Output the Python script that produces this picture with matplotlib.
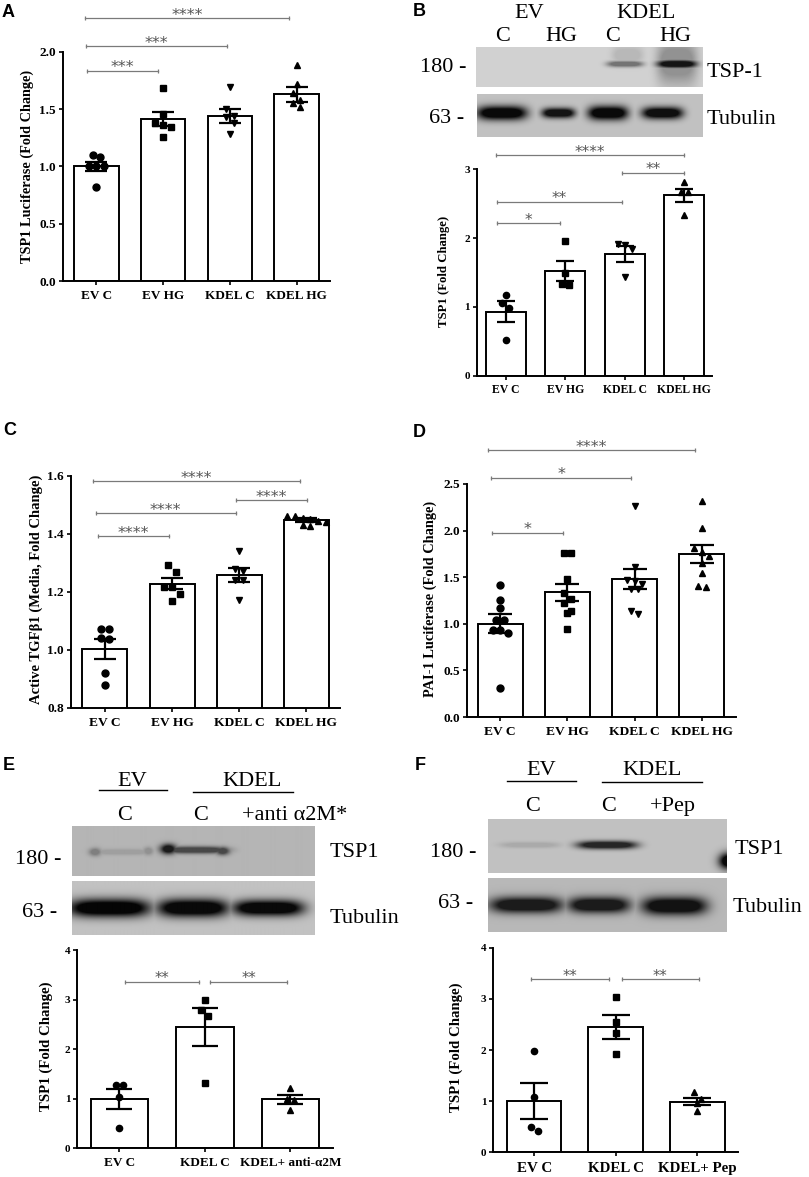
import numpy as np
import matplotlib.pyplot as plt
from matplotlib.lines import Line2D

W, H = 809, 1177
SERIF = ['Liberation Serif', 'DejaVu Serif']
SANS = ['Liberation Sans', 'DejaVu Sans']
plt.rcParams['font.family'] = SERIF

# ---------------- data ----------------
groups4 = ['EV C', 'EV HG', 'KDEL C', 'KDEL HG']
groups_e = ['EV C', 'KDEL C', 'KDEL+ anti-α2M']
groups_f = ['EV C', 'KDEL C', 'KDEL+ Pep']

a_mean = [1.00, 1.41, 1.44, 1.63]
a_sem = [0.04, 0.06, 0.06, 0.065]
a_pts = [[1.08, 1.10, 1.00, 1.00, 1.00, 0.82],
         [1.68, 1.46, 1.36, 1.38, 1.34, 1.26],
         [1.69, 1.44, 1.50, 1.43, 1.38, 1.28],
         [1.88, 1.72, 1.64, 1.58, 1.55, 1.52]]

b_mean = [0.93, 1.52, 1.77, 2.62]
b_sem = [0.15, 0.15, 0.115, 0.10]
b_pts = [[1.18, 1.05, 0.98, 0.52],
         [1.96, 1.49, 1.32, 1.34],
         [1.92, 1.90, 1.84, 1.44],
         [2.81, 2.67, 2.67, 2.34]]

c_mean = [1.003, 1.228, 1.258, 1.448]
c_sem = [0.034, 0.018, 0.025, 0.007]
c_pts = [[1.07, 1.07, 1.036, 1.039, 0.918, 0.878],
         [1.292, 1.269, 1.217, 1.217, 1.192, 1.169],
         [1.34, 1.28, 1.27, 1.24, 1.24, 1.17],
         [1.46, 1.46, 1.455, 1.45, 1.445, 1.44, 1.43, 1.425]]

d_mean = [1.00, 1.34, 1.48, 1.75]
d_sem = [0.10, 0.09, 0.11, 0.10]
d_pts = [[1.42, 1.26, 1.17, 1.04, 1.04, 0.93, 0.90, 0.93, 0.31],
         [1.76, 1.76, 1.48, 1.33, 1.27, 1.22, 1.14, 1.12, 0.94],
         [2.26, 1.61, 1.47, 1.46, 1.43, 1.37, 1.37, 1.14, 1.11],
         [2.32, 2.03, 1.81, 1.77, 1.73, 1.65, 1.55, 1.40, 1.41]]

e_mean = [1.00, 2.44, 0.99]
e_sem = [0.205, 0.38, 0.095]
e_pts = [[1.28, 1.28, 1.04, 0.40],
         [2.99, 2.79, 2.66, 1.31],
         [1.21, 1.00, 0.97, 0.77]]

f_mean = [1.00, 2.45, 0.99]
f_sem = [0.355, 0.23, 0.075]
f_pts = [[1.98, 1.09, 0.42, 0.50],
         [3.03, 2.55, 2.33, 1.93],
         [1.17, 1.04, 0.96, 0.81]]

# significance bars: (from, to, height, stars)
a_sig = [(-0.14, 0.92, 1.835, '***'), (-0.15, 1.95, 2.05, '***'), (-0.17, 2.89, 2.29, '****')]
b_sig = [(-0.15, 0.92, 2.215, '*'), (-0.15, 1.95, 2.53, '**'), (1.95, 3.0, 2.95, '**'),
         (-0.17, 3.0, 3.21, '****')]
c_sig = [(-0.10, 0.95, 1.392, '****'), (-0.14, 1.95, 1.472, '****'), (1.95, 3.01, 1.515, '****'),
         (-0.18, 2.90, 1.582, '****')]
d_sig = [(-0.13, 0.93, 1.978, '*'), (-0.14, 1.95, 2.568, '*'), (-0.18, 2.90, 2.865, '****')]
e_sig = [(0.07, 0.93, 3.36, '**'), (1.06, 1.96, 3.36, '**')]
f_sig = [(-0.04, 0.92, 3.39, '**'), (1.07, 2.02, 3.39, '**')]

fig = plt.figure(figsize=(W / 100, H / 100), dpi=100)


def fig_ax(l, t, r, b):
    return fig.add_axes([l / W, 1 - b / H, (r - l) / W, (b - t) / H])


def txt(x, y, s, **kw):
    fig.text(x / W, 1 - y / H, s, **kw)


def hline(x0, x1, y, lw=1.0):
    fig.add_artist(Line2D([x0 / W, x1 / W], [1 - y / H, 1 - y / H], color='black', lw=lw))


def swarm(ax, vals, diam):
    # rows of near-equal values are spread side by side, centred on the bar
    tr = ax.transData
    ux = tr.transform((1, 0))[0] - tr.transform((0, 0))[0]
    uy = tr.transform((0, 1))[1] - tr.transform((0, 0))[1]
    order = np.argsort(vals)[::-1]
    rows = []
    for k in order:
        if rows and (vals[rows[-1][0]] - vals[k]) * uy < diam:
            rows[-1].append(k)
        else:
            rows.append([k])
    off = np.zeros(len(vals))
    for r in rows:
        n = len(r)
        for j, k in enumerate(r):
            off[k] = (j - (n - 1) / 2) * diam / ux
    return off


def bar_panel(box, xlim, ylim, yticks, yfmt, names, means, sems, pts, markers,
              ms, capsize, xfs, yfs, sig, star_fs, xpad):
    ax = fig_ax(*box)
    ax.set_xlim(xlim)
    ax.set_ylim(ylim)
    x = np.arange(len(names))
    ax.bar(x, means, 0.67, color='white', edgecolor='black', linewidth=1.4, zorder=2)
    diam = ms * 100 / 72
    for i, p in enumerate(pts):
        off = swarm(ax, p, diam * 1.1)
        ax.plot(i + off, p, linestyle='none', marker=markers[i], ms=ms, color='black',
                zorder=3, clip_on=False)
    ax.errorbar(x, means, yerr=sems, fmt='none', ecolor='black', elinewidth=1.6,
                capsize=capsize, capthick=1.6, zorder=4)
    for s in ['top', 'right']:
        ax.spines[s].set_visible(False)
    for s in ['left', 'bottom']:
        ax.spines[s].set_linewidth(1.4)
    ax.set_yticks(yticks)
    ax.set_yticklabels([yfmt.format(v) for v in yticks], fontsize=yfs, fontweight='bold')
    ax.set_xticks(x)
    ax.set_xticklabels(names, fontsize=xfs, fontweight='bold')
    ax.tick_params(axis='both', length=3, width=1.2, direction='out')
    ax.tick_params(axis='x', pad=xpad)
    ax.tick_params(axis='y', pad=2)
    for x1, x2, y, s in sig:
        ax.plot([x1, x2], [y, y], color='#7a7a7a', lw=0.9, clip_on=False, zorder=1)
        ax.plot([x1, x2], [y, y], linestyle='none', marker='|', ms=3.5, mew=0.9,
                color='#7a7a7a', clip_on=False)
        ax.annotate(s, ((x1 + x2) / 2, y), xytext=(0, 2), textcoords='offset points',
                    ha='center', va='center', fontsize=star_fs, color='#555555',
                    family='DejaVu Sans', annotation_clip=False)
    return ax


def blot(box, bg, bands):
    # bands: (x0, x1, y centre, half height, strength[, edge sharpness])
    l, t, r, b = box
    ax = fig_ax(l, t, r, b)
    xx, yy = np.meshgrid(np.arange(l, r) + 0.5, np.arange(t, b) + 0.5)
    dark = np.zeros_like(xx)
    for band in bands:
        x0, x1, yc, hh, s = band[:5]
        pw = band[5] if len(band) > 5 else 4
        cx, hw = (x0 + x1) / 2, (x1 - x0) / 2
        prof = np.exp(-np.abs((xx - cx) / hw) ** pw) * np.exp(-((yy - yc) / hh) ** 2)
        dark = np.maximum(dark, s * np.clip(prof * 1.4, 0, 1))
    img = bg * (1 - dark)
    ax.imshow(img, cmap='gray', vmin=0, vmax=1, aspect='auto', interpolation='bilinear',
              extent=(l, r, b, t))
    ax.set_axis_off()


mk4 = ['o', 's', 'v', '^']
mk3 = ['o', 's', '^']

# ---------------- A ----------------
bar_panel((63, 51.7, 330, 281), (-0.5, 3.5), (0, 2.0), [0, 0.5, 1.0, 1.5, 2.0], '{:.1f}',
          groups4, a_mean, a_sem, a_pts, mk4, 5, 7.8, 9.5, 9.5, a_sig, 11.5, 3.5)
txt(27, 166, 'TSP1 Luciferase (Fold Change)', rotation=90, ha='center', va='center',
    fontsize=10.3, fontweight='bold')

# ---------------- B ----------------
blot((476, 47, 703, 87), 0.82, [(607, 643, 64, 3, 0.45), (612, 643, 55, 9, 0.12),
                                (657, 697, 64, 4, 0.9), (657, 697, 62, 22, 0.3)])
blot((477, 94, 703, 137), 0.76, [(477, 527, 113, 7, 0.95), (542, 575, 113, 5, 0.9),
                                 (588, 628, 113, 7, 0.95), (642, 683, 113, 6, 0.92)])
bl = dict(fontsize=16, va='baseline')
txt(529, 18, 'EV', ha='center', **bl)
txt(646, 18, 'KDEL', ha='center', **bl)
for xc, s in [(503, 'C'), (561, 'HG'), (613, 'C'), (675, 'HG')]:
    txt(xc, 41, s, ha='center', **bl)
txt(420, 72, '180 -', ha='left', **bl)
txt(429, 123, '63 -', ha='left', **bl)
txt(707, 77, 'TSP-1', ha='left', **bl)
txt(707, 124, 'Tubulin', ha='left', **bl)
bar_panel((476.7, 169.3, 712, 375.7), (-0.49, 3.47), (0, 3), [0, 1, 2, 3], '{:.0f}',
          groups4, b_mean, b_sem, b_pts, mk4, 4.5, 6.5, 8.5, 8, b_sig, 11, 3)
txt(444, 271, 'TSP1 (Fold Change)', rotation=90, ha='center', va='center',
    fontsize=9.2, fontweight='bold')

# ---------------- C ----------------
bar_panel((70.7, 475.7, 340, 707.7), (-0.51, 3.5), (0.8, 1.6), [0.8, 1.0, 1.2, 1.4, 1.6],
          '{:.1f}', groups4, c_mean, c_sem, c_pts, mk4, 5, 7.9, 9.7, 9.5, c_sig, 11.5, 3.5)
txt(36, 589, 'Active TGFβ1 (Media, Fold Change)', rotation=90, ha='center', va='center',
    fontsize=10.5, fontweight='bold')

# ---------------- D ----------------
bar_panel((466.7, 484, 736, 717), (-0.5, 3.51), (0, 2.5), [0, 0.5, 1.0, 1.5, 2.0, 2.5],
          '{:.1f}', groups4, d_mean, d_sem, d_pts, mk4, 5, 8.4, 9.7, 9.5, d_sig, 11.5, 3.5)
txt(430, 599, 'PAI-1 Luciferase (Fold Change)', rotation=90, ha='center', va='center',
    fontsize=10.4, fontweight='bold')

# ---------------- E ----------------
txt(132, 786, 'EV', ha='center', **bl)
txt(252, 786, 'KDEL', ha='center', **bl)
hline(99, 167, 789.5)
hline(193, 293, 791.5)
txt(124.5, 820, 'C', ha='center', **bl)
txt(201, 820, 'C', ha='center', **bl)
txt(242, 820, '+anti α2M*', ha='left', **bl)
blot((72, 826, 314, 876), 0.71, [(92, 152, 852, 3, 0.12), (89, 101, 852, 4, 0.3, 2),
                                 (143, 153, 851, 4, 0.2, 2), (163, 227, 850, 3.5, 0.6),
                                 (160, 176, 849, 5, 0.85, 2), (215, 229, 851, 4, 0.6, 2)])
blot((72, 881, 314, 935), 0.76, [(68, 150, 908, 9, 0.97), (157, 228, 908, 9, 0.95),
                                 (232, 303, 908, 8, 0.95)])
txt(15, 864, '180 -', ha='left', **bl)
txt(22, 917, '63 -', ha='left', **bl)
txt(330, 857, 'TSP1', ha='left', **bl)
txt(330, 923, 'Tubulin', ha='left', **bl)
bar_panel((77.3, 950, 333.3, 1148.3), (-0.49, 2.5), (0, 4), [0, 1, 2, 3, 4], '{:.0f}',
          groups_e, e_mean, e_sem, e_pts, mk3, 4.5, 9.6, 9.5, 8, e_sig, 10.5, 3.5)
txt(46, 1046, 'TSP1 (Fold Change)', rotation=90, ha='center', va='center',
    fontsize=10.7, fontweight='bold')

# ---------------- F ----------------
txt(541, 775, 'EV', ha='center', **bl)
txt(652, 775, 'KDEL', ha='center', **bl)
hline(507, 576, 780.5)
hline(602, 702, 782)
txt(532.5, 811, 'C', ha='center', **bl)
txt(609, 811, 'C', ha='center', **bl)
txt(650, 811, '+Pep', ha='left', **bl)
blot((488, 819, 727, 873), 0.76, [(500, 560, 845, 3, 0.12), (577, 637, 845, 4, 0.8),
                                  (719, 737, 861, 8, 0.95, 2)])
blot((488, 878, 727, 932), 0.72, [(490, 563, 905, 8, 0.85), (568, 630, 905, 8, 0.85),
                                  (642, 707, 906, 9, 0.9)])
txt(430, 857, '180 -', ha='left', **bl)
txt(438, 908, '63 -', ha='left', **bl)
txt(735, 854, 'TSP1', ha='left', **bl)
txt(733, 912, 'Tubulin', ha='left', **bl)
bar_panel((493.3, 947.7, 738.3, 1152.3), (-0.5, 2.5), (0, 4), [0, 1, 2, 3, 4], '{:.0f}',
          groups_f, f_mean, f_sem, f_pts, mk3, 4.5, 9.8, 10.8, 8, f_sig, 10.5, 4)
txt(456, 1047, 'TSP1 (Fold Change)', rotation=90, ha='center', va='center',
    fontsize=10.7, fontweight='bold')

# panel letters
for x, y, s in [(2, 17, 'A'), (413, 16, 'B'), (3, 435, 'C'), (413, 437, 'D'),
                (3, 770, 'E'), (415, 770, 'F')]:
    txt(x, y, s, ha='left', va='baseline', fontsize=13, fontweight='bold', family=SANS)

fig.savefig('out.png', dpi=100)
